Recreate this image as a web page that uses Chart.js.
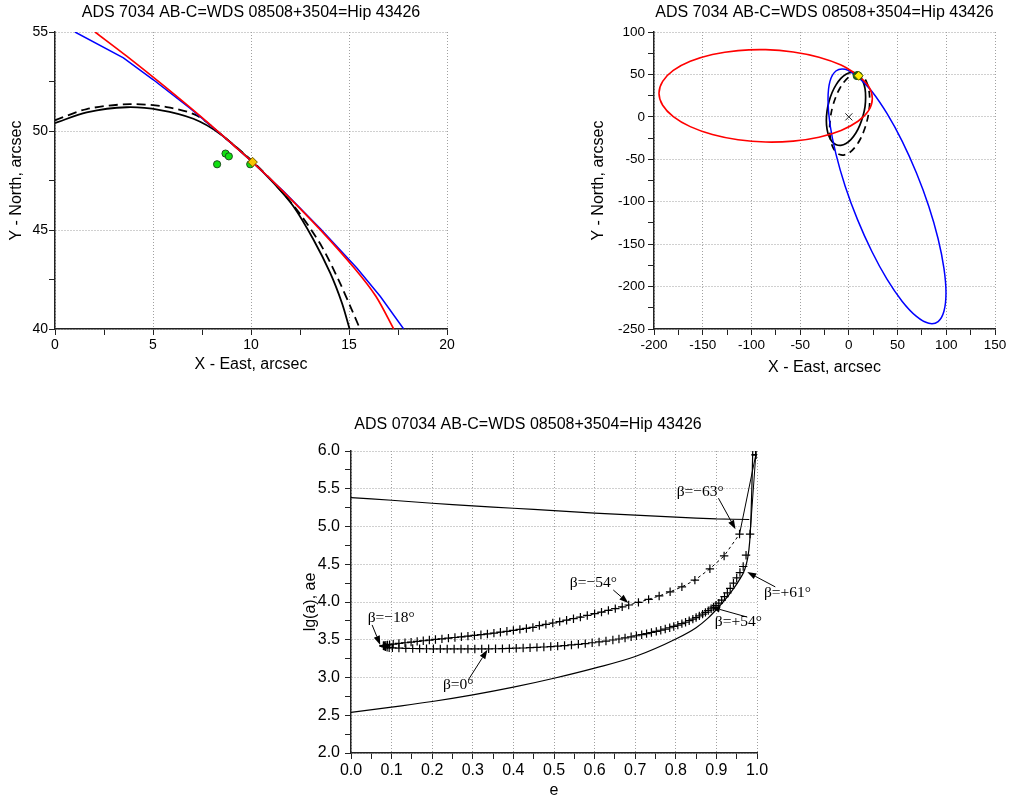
<!DOCTYPE html>
<html>
<head>
<meta charset="utf-8">
<title>ADS 7034 AB-C orbit solutions</title>
<script src="https://cdn.jsdelivr.net/npm/chart.js@4/dist/chart.umd.min.js"></script>
<style>
  html, body { margin: 0; padding: 0; background: #fff; width: 1009px; height: 800px; overflow: hidden; }
  canvas { position: absolute; display: block; }
</style>
</head>
<body>
<canvas id="arcPlot" width="497" height="390" style="left:0px;top:0px;width:497px;height:390px"></canvas>
<canvas id="orbitPlot" width="449" height="390" style="left:560px;top:0px;width:449px;height:390px"></canvas>
<canvas id="eccPlot" width="576" height="395" style="left:240px;top:405px;width:576px;height:395px"></canvas>
<script>
// ---------- Close-up of the observed arc, arcsec ----------
const arcRed    = [[2.04,55.0],[3.66,53.78],[5.53,52.30],[7.40,50.76],[9.11,49.28],[10.08,48.43],[11.66,46.93],[13.53,45.02],[15.32,43.02],[16.38,41.64],[17.28,40.0]];
const arcBlue   = [[1.02,55.0],[3.49,53.69],[5.0,52.60],[6.9,51.14],[8.5,49.81],[10.08,48.42],[11.66,46.95],[13.53,45.08],[15.40,43.08],[16.60,41.64],[17.79,40.0]];
const arcBlack  = [[0,50.40],[1.62,50.94],[3.66,51.20],[5.36,51.06],[7.06,50.62],[8.43,49.85],[10.08,48.43],[11.15,47.38],[12.17,46.19],[13.19,44.51],[14.04,42.83],[14.64,41.31],[15.03,40.0]];
const arcDashed = [[0,50.54],[1.62,51.11],[3.83,51.36],[5.70,51.21],[7.23,50.78],[8.60,49.72],[10.08,48.46],[11.32,47.22],[12.51,45.80],[13.62,44.15],[14.55,42.30],[15.15,40.95],[15.49,40.17]];
const observed  = [[8.27,48.32],[8.70,48.86],[8.87,48.72],[9.96,48.32]];
const lastPos   = [[10.08,48.43]];

// ---------- Full orbits, arcsec ----------
const orbitRed = [[9.4,49.2],[20.4,35.8],[24.1,21.6],[20.4,7.6],[9.4,-5.2],[-8.0,-16.0],[-30.7,-24.0],[-57.1,-28.6],[-85.4,-29.7],[-113.7,-27.0],[-140.1,-20.8],[-162.8,-11.5],[-180.2,0.3],[-191.1,13.7],[-194.9,27.9],[-191.1,41.9],[-180.2,54.7],[-162.8,65.4],[-140.1,73.4],[-113.7,78.1],[-85.4,79.2],[-57.1,76.5],[-30.7,70.3],[-8.0,61.0],[9.4,49.2]];
const orbitBlue = [[8.9,47.9],[23.5,30.2],[39.1,4.0],[54.8,-28.9],[69.4,-66.2],[82.0,-105.3],[91.6,-143.6],[97.6,-178.6],[99.7,-207.7],[97.6,-229.1],[91.6,-241.3],[82.0,-243.3],[69.4,-235.2],[54.8,-217.5],[39.1,-191.3],[23.5,-158.4],[8.9,-121.1],[-3.7,-82.0],[-13.3,-43.7],[-19.4,-8.7],[-21.4,20.4],[-19.4,41.8],[-13.3,54.0],[-3.7,56.0],[8.9,47.9]];
const orbitBlack = [[11.3,48.1],[7.2,51.7],[2.3,52.5],[-2.9,50.3],[-8.2,45.4],[-13.0,38.0],[-17.2,28.7],[-20.4,18.0],[-22.4,6.8],[-23.1,-4.3],[-22.4,-14.4],[-20.4,-22.9],[-17.2,-29.2],[-13.0,-32.8],[-8.2,-33.6],[-2.9,-31.4],[2.3,-26.5],[7.2,-19.1],[11.3,-9.8],[14.5,0.9],[16.6,12.1],[17.2,23.2],[16.6,33.3],[14.5,41.8],[11.3,48.1]];
const orbitDashed = [[11.1,50.0],[6.1,50.4],[0.8,47.6],[-4.5,41.7],[-9.5,33.1],[-13.7,22.5],[-17.0,10.6],[-19.0,-1.9],[-19.7,-14.1],[-19.0,-25.1],[-17.0,-34.2],[-13.7,-40.8],[-9.5,-44.4],[-4.5,-44.8],[0.8,-42.0],[6.1,-36.1],[11.1,-27.6],[15.3,-17.0],[18.6,-5.0],[20.7,7.5],[21.4,19.6],[20.7,30.7],[18.6,39.8],[15.3,46.4],[11.1,50.0]];
const primary = [[0,0]];

// ---------- lg(a) against eccentricity ----------
const upperBound = [[0,5.383],[0.1,5.348],[0.2,5.308],[0.3,5.273],[0.4,5.242],[0.5,5.211],[0.6,5.176],[0.7,5.150],[0.8,5.123],[0.9,5.100],[0.981,5.093]];
const lowerBound = [[0,2.537],[0.1,2.608],[0.2,2.682],[0.3,2.770],[0.4,2.872],[0.5,2.990],[0.6,3.124],[0.7,3.278],[0.8,3.510],[0.85,3.660],[0.88,3.790],[0.9,3.900],[0.92,4.020],[0.94,4.160],[0.955,4.280],[0.969,4.420],[0.977,4.580],[0.982,4.800],[0.985,5.100],[0.987,5.450],[0.9885,5.750],[0.9895,6.0]];
const betaNegative = [[0.080,3.420],[0.083,3.424],[0.086,3.428],[0.090,3.432],[0.095,3.436],[0.104,3.442],[0.118,3.451],[0.133,3.460],[0.148,3.469],[0.163,3.478],[0.178,3.487],[0.193,3.496],[0.208,3.504],[0.224,3.512],[0.240,3.521],[0.256,3.530],[0.272,3.539],[0.288,3.548],[0.304,3.557],[0.320,3.567],[0.336,3.577],[0.352,3.588],[0.368,3.600],[0.384,3.612],[0.400,3.624],[0.416,3.637],[0.432,3.650],[0.448,3.663],[0.464,3.688],[0.480,3.704],[0.497,3.722],[0.514,3.740],[0.531,3.759],[0.548,3.779],[0.565,3.800],[0.582,3.822],[0.600,3.845],[0.617,3.866],[0.634,3.889],[0.651,3.912],[0.668,3.936],[0.684,3.960],[0.708,3.995],[0.733,4.035],[0.759,4.080],[0.786,4.135],[0.815,4.200],[0.847,4.290],[0.884,4.440],[0.919,4.610],[0.957,4.900]];
const betaPositive = [[0.080,3.420],[0.082,3.412],[0.085,3.405],[0.089,3.400],[0.094,3.395],[0.102,3.392],[0.118,3.389],[0.135,3.386],[0.152,3.384],[0.169,3.382],[0.186,3.381],[0.203,3.380],[0.220,3.379],[0.237,3.378],[0.254,3.378],[0.271,3.378],[0.288,3.378],[0.305,3.378],[0.322,3.379],[0.339,3.380],[0.356,3.381],[0.373,3.383],[0.390,3.385],[0.407,3.388],[0.424,3.391],[0.441,3.395],[0.458,3.399],[0.475,3.404],[0.492,3.410],[0.509,3.416],[0.526,3.423],[0.543,3.431],[0.560,3.440],[0.577,3.449],[0.594,3.460],[0.611,3.471],[0.628,3.483],[0.645,3.497],[0.660,3.510],[0.675,3.524],[0.690,3.539],[0.703,3.553],[0.716,3.567],[0.728,3.581],[0.740,3.596],[0.752,3.611],[0.763,3.626],[0.774,3.642],[0.785,3.659],[0.795,3.676],[0.805,3.694],[0.815,3.713],[0.824,3.732],[0.833,3.752],[0.842,3.773],[0.850,3.794],[0.858,3.816],[0.866,3.839],[0.873,3.862],[0.880,3.886],[0.887,3.910],[0.893,3.933],[0.899,3.956],[0.906,3.985],[0.913,4.025],[0.920,4.070],[0.927,4.120],[0.934,4.180],[0.942,4.250],[0.950,4.320],[0.958,4.390],[0.966,4.470],[0.973,4.620],[0.983,4.900]];
const tailNegative = [[0.957,4.900],[0.997,5.950]];
const tailPositive = [[0.983,4.900],[0.997,5.950]];

// Annotated inclinations: label anchor, arrow start and arrow tip (e, lg a)
const betaNotes = [
  { text: 'β=−63°', at: [0.860, 5.454], from: [0.905, 5.375], to: [0.947, 4.965] },
  { text: 'β=−54°', at: [0.597, 4.251], from: [0.646, 4.159], to: [0.683, 3.987] },
  { text: 'β=−18°', at: [0.099, 3.788], from: [0.052, 3.696], to: [0.072, 3.432] },
  { text: 'β=0°',   at: [0.264, 2.900], from: [0.289, 2.969], to: [0.336, 3.366] },
  { text: 'β=+54°', at: [0.954, 3.735], from: [0.976, 3.800], to: [0.887, 3.934] },
  { text: 'β=+61°', at: [1.075, 4.120], from: [1.045, 4.200], to: [0.976, 4.397] }
];

const SANS = '"Liberation Sans", Arial, Helvetica, sans-serif';
const SERIF = '"Liberation Serif", "Times New Roman", Times, serif';
Chart.defaults.font.family = SANS;
Chart.defaults.color = '#000';

const onStep = (v, step) => Math.abs(v / step - Math.round(v / step)) < 1e-6;

function axis(o) {
  const isY = o.position === 'left';
  return {
    type: 'linear', position: o.position, min: o.min, max: o.max,
    ticks: {
      stepSize: o.minor, autoSkip: false, maxRotation: 0, minRotation: 0,
      padding: o.pad, color: '#000', font: { family: SANS, size: o.fontSize },
      callback: v => onStep(v, o.major) ? (o.digits ? Number(v).toFixed(o.digits) : String(Math.round(v))) : ''
    },
    grid: {
      color: c => (c.tick && onStep(c.tick.value, o.major)) ? '#a0a0a0' : 'rgba(0,0,0,0)',
      lineWidth: 1, drawTicks: true, tickLength: 6, tickColor: '#222', tickWidth: 1
    },
    border: { display: true, color: '#222', width: 1.5, dash: [1, 2] },
    title: {
      display: true, text: o.title, color: '#000',
      font: { family: SANS, size: 16 },
      padding: isY ? { top: o.titlePad } : { bottom: o.titlePad }
    },
    afterFit: s => { if (isY) s.width = o.size; else s.height = o.size; }
  };
}

const curve = (pts, color, width, extra) => Object.assign({
  data: pts, showLine: true, borderColor: color, borderWidth: width,
  pointRadius: 0, pointHoverRadius: 0, tension: 0.4, fill: false
}, extra || {});

const markers = (pts, style, radius, fill, edge, edgeWidth) => ({
  data: pts, showLine: false, pointStyle: style, pointRadius: radius, pointHoverRadius: radius,
  pointBackgroundColor: fill, pointBorderColor: edge, pointBorderWidth: edgeWidth || 1
});

const baseOptions = (extra) => Object.assign({
  responsive: false, animation: false, devicePixelRatio: 1,
  events: [],
}, extra);

const chartTitle = (text, pt, pb, fullSize) => ({
  display: true, text, color: '#000', fullSize,
  font: { family: SANS, size: 16, weight: 'normal' },
  padding: { top: pt, bottom: pb }
});

// ---------- Close-up chart ----------
new Chart(document.getElementById('arcPlot'), {
  type: 'scatter',
  data: { datasets: [
    markers(lastPos, 'rectRot', 4.8, '#f7c300', '#6b5a00'),
    markers(observed, 'circle', 3.6, '#10e010', '#1d4d1d'),
    curve(arcRed, '#ff0000', 1.7, { tension: 0.3 }),
    curve(arcBlue, '#0000ff', 1.5, { tension: 0 }),
    curve(arcBlack, '#000000', 1.8, { tension: 0.3 }),
    curve(arcDashed, '#000000', 1.8, { tension: 0.3, borderDash: [9, 5] })
  ]},
  options: baseOptions({
    layout: { padding: { left: 0, top: 0, right: 50, bottom: 11 } },
    plugins: {
      legend: { display: false }, tooltip: { enabled: false },
      title: chartTitle('ADS 7034 AB-C=WDS 08508+3504=Hip 43426', 2.9, 9.9, false)
    },
    scales: {
      x: axis({ position: 'bottom', min: 0, max: 20, minor: 2.5, major: 5, pad: 2, fontSize: 14, title: 'X - East, arcsec', titlePad: 4.4, size: 50 }),
      y: axis({ position: 'left', min: 40, max: 55, minor: 2.5, major: 5, pad: 1, fontSize: 14, title: 'Y - North, arcsec', titlePad: 7.4, size: 55 })
    }
  })
});

// ---------- Full orbit chart ----------
new Chart(document.getElementById('orbitPlot'), {
  type: 'scatter',
  data: { datasets: [
    markers(lastPos, 'rectRot', 4.5, '#ffee00', '#5a5a00'),
    markers(observed, 'circle', 3.8, '#10c010', '#1d4d1d'),
    markers(primary, 'crossRot', 5, 'rgba(0,0,0,0)', '#222'),
    curve(orbitRed, '#ff0000', 1.6),
    curve(orbitBlue, '#0000ff', 1.5),
    curve(orbitBlack, '#000000', 1.7),
    curve(orbitDashed, '#000000', 1.7, { borderDash: [7, 5] })
  ]},
  options: baseOptions({
    layout: { padding: { left: 0, top: 0, right: 14, bottom: 11 } },
    plugins: {
      legend: { display: false }, tooltip: { enabled: false },
      title: chartTitle('ADS 7034 AB-C=WDS 08508+3504=Hip 43426', 2.9, 9.9, false)
    },
    scales: {
      x: axis({ position: 'bottom', min: -200, max: 150, minor: 25, major: 50, pad: 2, fontSize: 13.5, title: 'X - East, arcsec', titlePad: 1.4, size: 50 }),
      y: axis({ position: 'left', min: -250, max: 100, minor: 25, major: 50, pad: 3, fontSize: 13.5, title: 'Y - North, arcsec', titlePad: 29.4, size: 94 })
    }
  })
});

// Arrows and inclination labels on the lg(a)-e diagram
const betaLabels = {
  id: 'betaLabels',
  afterDatasetsDraw(chart) {
    const { ctx, scales: { x, y } } = chart;
    ctx.save();
    ctx.fillStyle = '#000';
    ctx.strokeStyle = '#000';
    ctx.lineWidth = 1;
    ctx.font = '15.5px ' + SERIF;
    ctx.textAlign = 'center';
    ctx.textBaseline = 'middle';
    for (const n of betaNotes) {
      const x0 = x.getPixelForValue(n.from[0]), y0 = y.getPixelForValue(n.from[1]);
      const x1 = x.getPixelForValue(n.to[0]),   y1 = y.getPixelForValue(n.to[1]);
      const ang = Math.atan2(y1 - y0, x1 - x0);
      const len = 9, half = 3.2;
      const bx = x1 - len * Math.cos(ang), by = y1 - len * Math.sin(ang);
      ctx.beginPath();
      ctx.moveTo(x0, y0);
      ctx.lineTo(bx, by);
      ctx.stroke();
      ctx.beginPath();
      ctx.moveTo(x1, y1);
      ctx.lineTo(bx + half * Math.sin(ang), by - half * Math.cos(ang));
      ctx.lineTo(bx - half * Math.sin(ang), by + half * Math.cos(ang));
      ctx.closePath();
      ctx.fill();
      ctx.fillText(n.text, x.getPixelForValue(n.at[0]), y.getPixelForValue(n.at[1]));
    }
    ctx.restore();
  }
};

const plusTail = { tension: 0, pointStyle: 'cross', pointRadius: c => c.dataIndex === 1 ? 4.2 : 0, pointHoverRadius: 0, pointBorderColor: '#000', pointBorderWidth: 1.4 };

// ---------- lg(a) - e chart ----------
new Chart(document.getElementById('eccPlot'), {
  type: 'scatter',
  data: { datasets: [
    curve(tailNegative, '#000', 1, plusTail),
    curve(tailPositive, '#000', 1, plusTail),
    curve(betaNegative, '#000', 1, { tension: 0, borderDash: [3, 3], pointStyle: 'cross', pointRadius: 4.2, pointHoverRadius: 4.2, pointBorderColor: '#000', pointBorderWidth: 1.2 }),
    markers(betaPositive, 'cross', 4.2, '#000', '#000', 1.2),
    curve(upperBound, '#000', 1.2, { tension: 0.2 }),
    curve(lowerBound, '#000', 1.2, { cubicInterpolationMode: 'monotone' })
  ]},
  options: baseOptions({
    layout: { padding: { left: 59, top: 0, right: 59, bottom: 0 } },
    plugins: {
      legend: { display: false }, tooltip: { enabled: false },
      title: chartTitle('ADS 07034 AB-C=WDS 08508+3504=Hip 43426', 10.4, 16.4, true)
    },
    scales: {
      x: axis({ position: 'bottom', min: 0, max: 1, minor: 0.05, major: 0.1, digits: 1, pad: 2.4, fontSize: 16, title: 'e', titlePad: 0, size: 47 }),
      y: axis({ position: 'left', min: 2, max: 6, minor: 0.25, major: 0.5, digits: 1, pad: 5, fontSize: 16, title: 'lg(a), ae', titlePad: 2.4, size: 52 })
    }
  }),
  plugins: [betaLabels]
});
</script>
</body>
</html>
